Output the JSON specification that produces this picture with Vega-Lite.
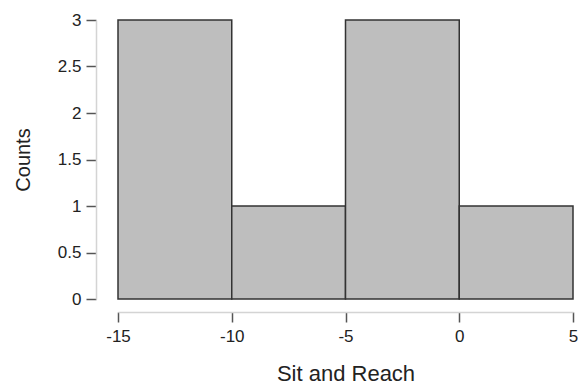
{
  "$schema": "https://vega.github.io/schema/vega-lite/v6.json",
  "width": 455,
  "height": 279,
  "autosize": {"type": "none"},
  "padding": {"left": 118, "top": 20, "right": 5, "bottom": 90},
  "background": "white",
  "config": {"view": {"stroke": null}, "font": "Liberation Sans"},
  "data": {"values": [
    {"x0": -15, "x1": -10, "count": 3},
    {"x0": -10, "x1": -5, "count": 1},
    {"x0": -5, "x1": 0, "count": 3},
    {"x0": 0, "x1": 5, "count": 1}
  ]},
  "mark": {"type": "rect", "fill": "#bebebe", "stroke": "#333333", "strokeWidth": 1.5},
  "encoding": {
    "x": {"field": "x0", "type": "quantitative",
      "scale": {"domain": [-15, 5], "nice": false, "zero": false},
      "axis": {"title": "Sit and Reach", "values": [-15, -10, -5, 0, 5], "grid": false,
        "labelExpr": "'' + datum.value",
        "offset": 13, "domainColor": "#d4d4d4", "domainWidth": 1.5, "tickColor": "#555555", "tickWidth": 1.5, "tickSize": 10,
        "labelFontSize": 17, "labelColor": "#222222", "labelPadding": 6, "labelFlush": false, "labelOverlap": false,
        "titleFontSize": 22, "titleFontWeight": "normal", "titleColor": "#222222", "titlePadding": 19}},
    "x2": {"field": "x1"},
    "y": {"field": "count", "type": "quantitative",
      "scale": {"domain": [0, 3], "nice": false},
      "axis": {"title": "Counts", "values": [0, 0.5, 1, 1.5, 2, 2.5, 3], "grid": false,
        "labelExpr": "'' + datum.value",
        "offset": 22, "domainColor": "#d4d4d4", "domainWidth": 1.5, "tickColor": "#555555", "tickWidth": 1.5, "tickSize": 10,
        "labelFontSize": 17, "labelColor": "#222222", "labelPadding": 5, "labelFlush": false, "labelOverlap": false,
        "titleFontSize": 20, "titleFontWeight": "normal", "titleColor": "#222222", "titlePadding": 24}},
    "y2": {"datum": 0}
  }
}
